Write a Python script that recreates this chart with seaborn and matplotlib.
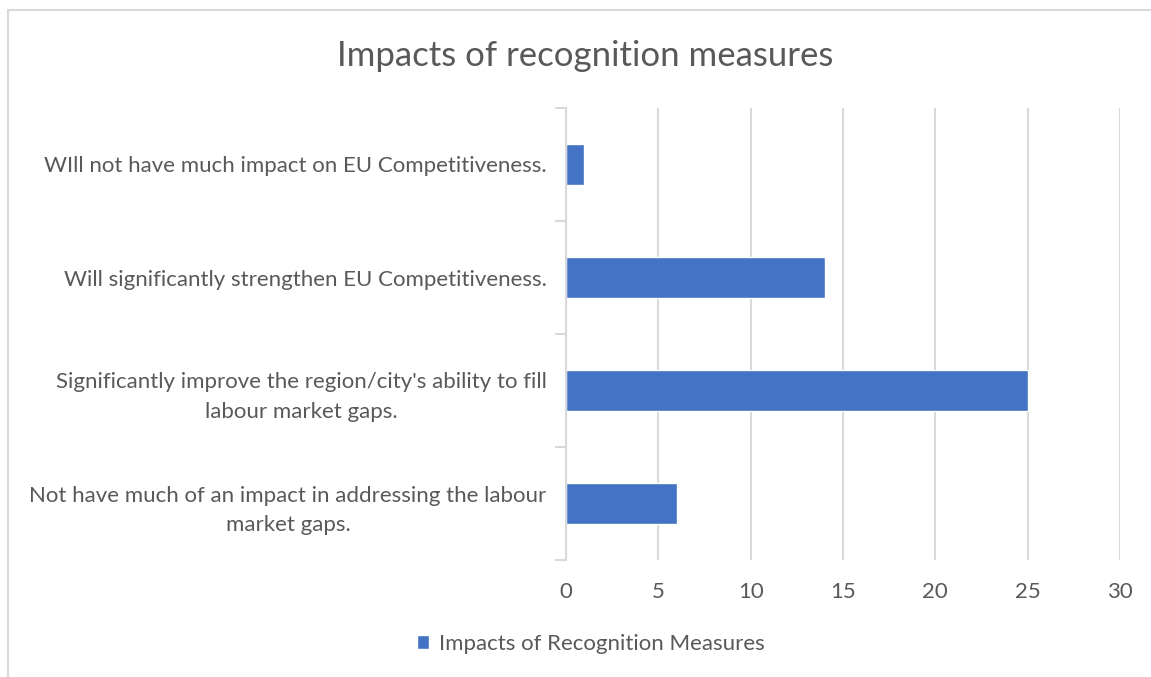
import matplotlib
matplotlib.use("Agg")
import matplotlib.pyplot as plt
from matplotlib.patches import Rectangle
import seaborn as sns
import pandas as pd

# chart data
categories = [
    "WIll not have much impact on EU Competitiveness.",
    "Will significantly strengthen EU Competitiveness.",
    "Significantly improve the region/city's ability to fill\nlabour market gaps.",
    "Not have much of an impact in addressing the labour\nmarket gaps.",
]
values = [1, 14, 25, 6]
series_name = "Impacts of Recognition Measures"
x_ticks = [0, 5, 10, 15, 20, 25, 30]

df = pd.DataFrame({"category": categories, "value": values, "series": series_name})

sns.set_style("white")
plt.rcParams["font.family"] = ["Lato", "DejaVu Sans"]

text_col = "#595959"
grid_col = "#d9d9d9"
bar_col = "#4472c4"

fig = plt.figure(figsize=(11.51, 6.77), dpi=100)
ax = fig.add_axes([566 / 1151, 1 - 560 / 677, (1120 - 566) / 1151, (560 - 108) / 677])

sns.barplot(data=df, y="category", x="value", hue="series", palette=[bar_col],
            saturation=1, width=0.36, orient="h", ax=ax, legend=True)

ax.set_xlim(0, 30)
ax.set_ylim(3.5, -0.5)
ax.set_xticks(x_ticks)
ax.set_xlabel("")
ax.set_ylabel("")
ax.grid(axis="x", color=grid_col, linewidth=1.5)
ax.set_axisbelow(True)
for s in ["top", "right", "bottom"]:
    ax.spines[s].set_visible(False)
ax.spines["left"].set_color(grid_col)
ax.spines["left"].set_linewidth(1.5)

# category separator ticks
ax.set_yticks([-0.5, 0.5, 1.5, 2.5, 3.5], minor=True)
ax.tick_params(axis="y", which="minor", length=8, width=1.5, color=grid_col, left=True)
ax.tick_params(axis="y", which="major", length=0, pad=14, labelsize=16, labelcolor=text_col)
ax.tick_params(axis="x", which="major", length=0, pad=16, labelsize=16, labelcolor=text_col)
for lab in ax.get_yticklabels():
    lab.set_multialignment("center")
    lab.set_linespacing(1.6)

leg = ax.legend(loc="center", bbox_to_anchor=(591 / 1151, 1 - 644 / 677),
                bbox_transform=fig.transFigure, frameon=False, fontsize=16,
                handlelength=0.55, handleheight=0.55, handletextpad=0.45)
for t in leg.get_texts():
    t.set_color(text_col)

fig.text(585 / 1151, 1 - 56 / 677, "Impacts of recognition measures",
         ha="center", va="center", fontsize=25, color=text_col)

# chart border
fig.patches.append(Rectangle((8 / 1151, -0.1), 1.2, 1 - 10 / 677 + 0.1,
                             transform=fig.transFigure, fill=False,
                             edgecolor=grid_col, linewidth=1.5))

fig.savefig("out.png", dpi=100)
